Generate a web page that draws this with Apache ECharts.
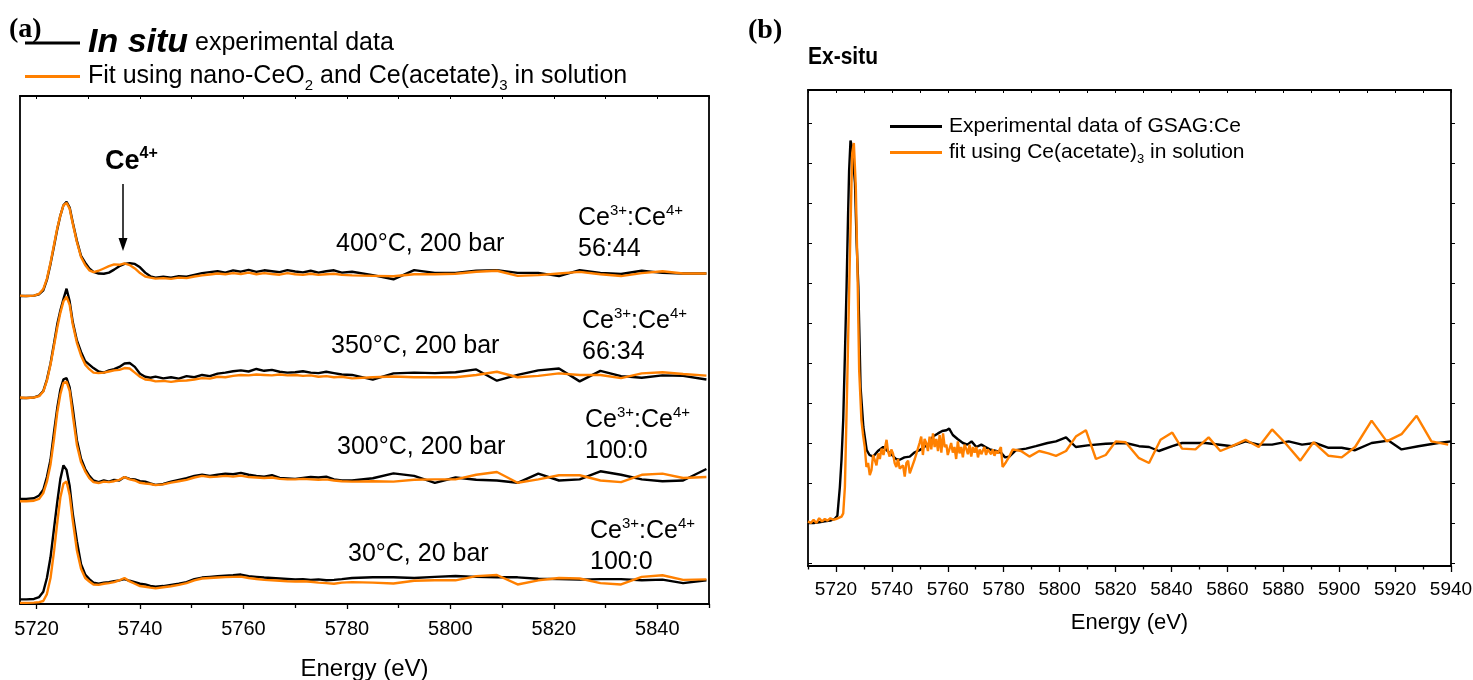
<!DOCTYPE html>
<html>
<head>
<meta charset="utf-8">
<script src="https://cdn.jsdelivr.net/npm/echarts@6/dist/echarts.min.js"></script>
<style>
  html, body { margin: 0; padding: 0; background: #fff; }
  #chart { width: 1473px; height: 680px; }
</style>
</head>
<body>
<div id="chart"></div>
<script>
// Ce L3-edge XANES: (a) in situ spectra stacked by condition, (b) ex-situ GSAG:Ce.
const FONT = '"Liberation Sans", Arial, sans-serif';
const SERIF = '"Liberation Serif", "Times New Roman", serif';
const BLACK = '#000000';
const ORANGE = '#ff8000';

// ---- panel (a): shared energy grid (eV) ----
const energyA = [
  5716.8, 5718, 5719.5, 5720.5, 5721.3, 5722, 5722.7, 5723.4, 5724, 5724.6, 5725.2, 5725.8, 5726.4, 5727,
  5727.8, 5728.6, 5729.4, 5730.2, 5731, 5732, 5733, 5734, 5735, 5736, 5737, 5738, 5739, 5740, 5741, 5742,
  5743, 5744.5, 5746, 5747.5, 5749, 5750.5, 5752, 5753.5, 5755, 5756.5, 5758, 5759.5, 5761, 5762.5, 5764,
  5765.5, 5767, 5768.5, 5770, 5771.5, 5773, 5774.5, 5776, 5777.5, 5779,
  5781, 5785, 5789, 5793, 5797, 5801, 5805, 5809, 5813, 5817, 5821, 5825, 5829, 5833, 5837, 5841, 5845, 5849.5
];

// normalised absorption, one pair (experiment / fit) per condition
const exp400 = [0, 0, 0.02, 0.08, 0.25, 0.7, 1.4, 2.2, 2.9, 3.5, 3.95, 4.1, 3.85, 3.2, 2.4, 1.75, 1.45, 1.2, 1.05, 0.98,
  0.97, 1.02, 1.15, 1.3, 1.4, 1.43, 1.4, 1.25, 1.02, 0.86, 0.8, 0.84, 0.8, 0.86, 0.84, 0.92, 1.0, 1.04, 1.08, 1.02,
  1.12, 1.06, 1.14, 1.05, 1.12, 1.08, 1.04, 1.13, 1.07, 1.03, 1.1, 1.02, 1.08, 1.12, 1.02,
  1.06, 0.91, 0.73, 1.13, 1.01, 1.01, 1.1, 1.13, 1.01, 1.01, 0.87, 1.13, 1.01, 0.96, 1.1, 1.01, 0.98, 0.98];
const fit400 = [0.02, 0, 0.02, 0.1, 0.3, 0.75, 1.45, 2.25, 2.95, 3.5, 3.95, 4.05, 3.8, 3.15, 2.35, 1.7, 1.35, 1.12, 1.04, 1.1,
  1.2, 1.3, 1.38, 1.36, 1.42, 1.35, 1.2, 1.0, 0.85, 0.8, 0.76, 0.78, 0.75, 0.8, 0.78, 0.85, 0.9, 0.94, 0.98, 0.95,
  1.0, 0.96, 1.02, 0.95, 1.0, 0.96, 0.93, 1.0, 0.95, 0.92, 0.97, 0.92, 0.95, 0.97, 0.92,
  0.9, 0.88, 0.86, 0.95, 0.95, 0.97, 1.06, 1.1, 0.88, 0.91, 0.98, 1.05, 0.95, 0.87, 1.0, 1.08, 0.98, 0.98];
const exp350 = [0, 0, 0.02, 0.1, 0.3, 0.8, 1.5, 2.4, 3.2, 3.8, 4.3, 4.75, 4.2, 3.3, 2.5, 2.0, 1.6, 1.45, 1.3, 1.15,
  1.1, 1.2, 1.25, 1.35, 1.5, 1.52, 1.35, 1.05, 0.92, 0.88, 0.93, 0.85, 0.9, 0.84, 0.95, 0.9, 1.0, 0.95, 1.06, 1.1,
  1.16, 1.2, 1.15, 1.26, 1.18, 1.22, 1.14, 1.1, 1.12, 1.16, 1.1, 1.08, 1.14, 1.08, 1.02,
  1.0, 0.8, 1.07, 1.1, 1.08, 1.12, 1.24, 0.75, 1.0, 1.2, 1.28, 0.72, 1.18, 0.95, 0.88, 0.98, 0.96, 0.8];
const fit350 = [0.02, 0, 0.02, 0.08, 0.28, 0.75, 1.45, 2.3, 3.05, 3.7, 4.2, 4.4, 4.05, 3.2, 2.4, 1.85, 1.45, 1.25, 1.1, 1.08,
  1.1, 1.15, 1.2, 1.22, 1.3, 1.28, 1.1, 0.92, 0.8, 0.78, 0.72, 0.74, 0.7, 0.75, 0.76, 0.8, 0.86, 0.84, 0.92, 0.9,
  0.96, 1.0, 0.98, 1.02, 1.0, 0.98, 1.02, 0.98, 1.0, 0.96, 0.98, 0.92, 0.95, 0.9, 0.92,
  0.85, 0.9, 0.93, 0.9, 0.9, 0.9, 1.0, 1.14, 0.9, 0.96, 1.07, 1.0, 1.0, 0.86, 1.07, 1.12, 1.04, 0.97];
const exp300 = [0.05, 0.05, 0.08, 0.2, 0.45, 1.0, 1.75, 3.0, 4.0, 4.8, 5.25, 5.3, 4.9, 4.0, 2.6, 1.8, 1.35, 1.05, 0.85, 0.78,
  0.85, 0.8, 0.88, 0.85, 1.0, 0.92, 0.9, 0.82, 0.8, 0.72, 0.66, 0.7, 0.8, 0.88, 0.95, 1.05, 1.1, 1.05, 1.1, 1.15,
  1.12, 1.18, 1.1, 1.05, 1.02, 1.08, 0.96, 0.94, 0.92, 0.96, 1.0, 0.98, 1.02, 0.9, 0.85,
  0.85, 0.95, 1.16, 1.05, 0.75, 0.98, 0.88, 0.85, 0.75, 1.15, 0.85, 0.9, 1.25, 1.1, 0.9, 0.82, 0.85, 1.35];
const fit300 = [-0.05, -0.05, -0.03, 0.05, 0.3, 0.8, 1.55, 2.7, 3.8, 4.6, 5.1, 5.15, 4.75, 3.7, 2.4, 1.65, 1.25, 0.95, 0.78, 0.74,
  0.8, 0.78, 0.82, 0.88, 1.0, 0.9, 0.85, 0.75, 0.72, 0.7, 0.65, 0.68, 0.76, 0.82, 0.88, 0.98, 1.05, 1.0, 1.02, 1.05,
  1.02, 1.06, 1.0, 0.98, 0.96, 0.98, 0.92, 0.9, 0.9, 0.92, 0.9, 0.88, 0.9, 0.85, 0.82,
  0.8, 0.82, 0.8, 0.88, 0.9, 0.9, 1.1, 1.22, 0.75, 0.9, 1.08, 1.08, 0.85, 0.78, 1.1, 1.15, 0.96, 1.0];
const exp30 = [0.07, 0.07, 0.09, 0.17, 0.4, 1.0, 1.9, 3.2, 4.3, 5.3, 5.9, 5.7, 5.0, 3.8, 2.6, 1.6, 1.15, 0.95, 0.8, 0.75,
  0.8, 0.82, 0.86, 0.9, 0.95, 0.88, 0.82, 0.75, 0.72, 0.66, 0.62, 0.65, 0.7, 0.75, 0.82, 0.95, 1.02, 1.05, 1.08, 1.1,
  1.12, 1.15, 1.08, 1.05, 1.02, 1.0, 0.98, 0.96, 0.94, 0.95, 0.92, 0.94, 0.9, 0.92, 0.95,
  1.0, 1.03, 1.03, 1.0, 1.05, 1.09, 1.05, 1.03, 1.03, 0.97, 0.95, 0.93, 0.95, 0.95, 0.9, 0.93, 0.78, 0.9];
const fit30 = [-0.08, -0.08, -0.07, -0.05, 0.0, 0.3, 1.0, 2.2, 3.4, 4.5, 5.1, 5.2, 4.6, 3.5, 2.2, 1.4, 1.0, 0.85, 0.72, 0.7,
  0.75, 0.78, 0.82, 0.9, 1.0, 0.85, 0.75, 0.65, 0.62, 0.58, 0.55, 0.6, 0.64, 0.7, 0.78, 0.9, 0.98, 1.0, 1.02, 1.04,
  1.05, 1.06, 1.0, 0.96, 0.92, 0.9, 0.88, 0.86, 0.85, 0.86, 0.84, 0.8, 0.78, 0.75, 0.8,
  0.82, 0.8, 0.76, 0.88, 0.9, 0.9, 1.08, 1.13, 0.72, 0.9, 1.0, 0.98, 0.78, 0.72, 1.05, 1.12, 0.92, 0.94];

// vertical stacking offsets, bottom to top: 30 °C, 300 °C, 350 °C, 400 °C
const offsetsA = [0.13, 4.52, 8.96, 13.39];
const conditions = ['30°C, 20 bar', '300°C, 200 bar', '350°C, 200 bar', '400°C, 200 bar'];
const ratios = ['100:0', '100:0', '66:34', '56:44'];

// ---- panel (b) ----
const energyBexp = [5710, 5712, 5714, 5716, 5718, 5719.5, 5720.5, 5721.4, 5722, 5722.6, 5723.2, 5723.8, 5724.3, 5724.7,
  5725.2, 5725.6, 5726.2, 5726.8, 5727.4, 5728, 5728.8, 5729.8, 5731, 5732, 5733.3, 5735, 5736.9, 5738.5, 5740,
  5741.5, 5742.8, 5744.5, 5746.4, 5748, 5749.9, 5751.5, 5753, 5754.7, 5756.5, 5758, 5759.5, 5760.5, 5761.8, 5763.5,
  5765.4, 5767, 5768.5, 5770.2, 5772, 5773.5, 5775, 5777.3, 5779, 5780.5, 5782, 5784.4, 5788, 5791.5, 5795.7,
  5798.7, 5802.3, 5805.8, 5810, 5816.5, 5823.6, 5828.4, 5832, 5835.5, 5840.3, 5843.8, 5852.2, 5861.7, 5866.5,
  5871.2, 5876, 5881.9, 5886.7, 5891.4, 5896.2, 5900.9, 5905.7, 5911.6, 5917.6, 5922.3, 5928.3, 5935.4, 5940];
const expB = [0, 0, 0.01, 0.02, 0.03, 0.05, 0.09, 0.45, 0.8, 1.29, 2.1, 2.96, 3.8, 4.4, 4.78, 4.72, 4.5, 4.25, 3.5, 2.96,
  1.7, 1.2, 0.91, 0.85, 0.83, 0.9, 0.95, 0.9, 0.85, 0.8, 0.79, 0.82, 0.83, 0.88, 0.91, 0.95, 0.98, 1.08, 1.12, 1.15,
  1.16, 1.18, 1.1, 1.05, 1.0, 0.98, 1.02, 0.95, 0.98, 0.95, 0.92, 0.9, 0.88, 0.82, 0.83, 0.91, 0.93, 0.96, 1.0, 1.02,
  1.07, 0.95, 0.97, 0.99, 1.0, 0.96, 0.95, 0.9, 0.96, 1.0, 1.0, 0.96, 1.02, 0.98, 0.98, 1.02, 0.98, 1.0, 0.94, 0.94,
  0.91, 1.0, 1.03, 0.92, 0.96, 1.0, 1.02];
const energyBfit = [5710, 5711, 5712, 5713, 5714, 5715, 5716, 5717, 5718, 5719, 5720, 5720.8, 5721.4, 5722, 5722.6,
  5723.2, 5724, 5725, 5725.8, 5726.4, 5727.1, 5727.7, 5728.3, 5729.1, 5729.7, 5730.3, 5730.9, 5731.5, 5732.1, 5732.7,
  5733.3, 5733.9, 5734.5, 5735.1, 5735.7, 5736.3, 5737, 5737.6, 5738.1, 5738.6, 5739.2, 5739.8, 5740.4, 5741, 5741.6,
  5742.2, 5742.8, 5743.4, 5744, 5744.6, 5745.2, 5745.8, 5746.4, 5747, 5747.6, 5748.2, 5748.8, 5749.3, 5749.9, 5750.5,
  5751.1, 5751.7, 5752.3, 5752.9, 5753.5, 5754.1, 5754.7, 5755.3, 5755.9, 5756.5, 5757.1, 5757.7, 5758.3, 5758.9,
  5759.5, 5760, 5760.6, 5761.2, 5761.8, 5762.4, 5763, 5763.6, 5764.2, 5764.8, 5765.4, 5766, 5766.6, 5767.2, 5767.8,
  5768.4, 5769, 5769.6, 5770.2, 5770.8, 5771.4, 5772, 5772.5, 5773.1, 5773.7, 5774.3, 5774.9, 5775.5, 5776.1, 5776.7,
  5777.3, 5777.9, 5778.5, 5779, 5779.6, 5780.8, 5782, 5783.2, 5786.2, 5789.2, 5792.7, 5796, 5798.7, 5802.3, 5805.8,
  5809.4, 5813, 5816.5, 5820.1, 5823.6, 5828.4, 5832, 5836.1, 5840.3, 5843.8, 5848.6, 5853.3, 5857.5, 5861.7, 5866.5,
  5871.2, 5876, 5880.7, 5886.1, 5890.8, 5896.2, 5900.9, 5905.7, 5911.6, 5917, 5922.3, 5927.7, 5933, 5939];
const fitB = [0.02, 0, 0.04, 0, 0.06, 0.02, 0.05, 0.03, 0.06, 0.04, 0.05, 0.06, 0.06, 0.08, 0.12,
  0.45, 1.7, 3.37, 4.62, 4.75, 4.2, 3.16, 1.91, 1.29, 1.1, 0.95, 0.7, 0.75, 0.6, 0.66,
  0.85, 0.83, 0.72, 0.87, 0.8, 0.93, 0.85, 0.95, 1.04, 0.9, 0.83, 0.92, 0.87, 0.75, 0.7,
  0.8, 0.68, 0.66, 0.72, 0.58, 0.75, 0.78, 0.62, 0.68, 0.66, 0.8, 0.87, 0.87, 1.0, 1.08,
  0.85, 1.05, 1.0, 0.9, 1.08, 0.92, 1.12, 0.95, 1.05, 0.9, 1.1, 0.88, 1.12, 0.95,
  0.98, 0.85, 0.83, 1.0, 0.88, 0.95, 0.8, 1.02, 0.87, 0.95, 0.82, 0.98, 0.93, 0.86, 0.98,
  0.83, 0.95, 0.88, 0.95, 0.82, 0.92, 0.86, 0.87, 0.95, 0.85, 0.92, 0.93, 0.86, 0.92, 0.84,
  0.9, 0.87, 0.87, 0.95, 0.7, 0.76, 0.83, 0.92, 0.9, 0.83, 0.9, 0.87, 0.84, 0.9, 1.08,
  1.16, 0.8, 0.85, 1.02, 1.01, 0.81, 0.75, 1.04, 1.13, 0.93, 0.92, 1.07, 0.9, 0.96, 1.04,
  0.95, 1.17, 1.0, 0.78, 1.01, 0.84, 0.82, 0.95, 1.28, 1.02, 1.11, 1.34, 1.02, 0.98];

// ---- tick values ----
const ticksA = [5720, 5740, 5760, 5780, 5800, 5820, 5840];
const minorA = [5730, 5750, 5770, 5790, 5810, 5830, 5850];
const topA = [5720, 5730, 5740, 5750, 5760, 5770, 5780, 5790, 5800, 5810, 5820, 5830, 5840, 5850];
const ticksB = [5720, 5740, 5760, 5780, 5800, 5820, 5840, 5860, 5880, 5900, 5920, 5940];
const minorB = [5710, 5730, 5750, 5770, 5790, 5810, 5830, 5850, 5870, 5890, 5910, 5930];
const topB = [5710, 5720, 5730, 5740, 5750, 5760, 5770, 5780, 5790, 5800, 5810, 5820, 5830, 5840, 5850, 5860,
  5870, 5880, 5890, 5900, 5910, 5920, 5930, 5940];
const yTicksB = [-0.5, 0, 0.5, 1, 1.5, 2, 2.5, 3, 3.5, 4, 4.5, 5];

const NAME_EXP_A = 'In situ experimental data';
const NAME_FIT_A = 'Fit using nano-CeO2 and Ce(acetate)3 in solution';
const NAME_EXP_B = 'Experimental data of GSAG:Ce';
const NAME_FIT_B = 'fit using Ce(acetate)3 in solution';

function pairs(xs, ys, off) {
  return xs.map((x, i) => [x, ys[i] + (off || 0)]);
}

function lineSeries(name, data, color, xi, yi) {
  return {
    name, type: 'line', data, xAxisIndex: xi, yAxisIndex: yi,
    symbol: 'none', showSymbol: false, silent: true,
    lineStyle: { color, width: 2.4 }, itemStyle: { color },
  };
}

const AX_LINE = { show: true, onZero: false, lineStyle: { color: BLACK, width: 1.8 } };

function valueX(grid, min, max, extra) {
  return Object.assign({
    type: 'value', gridIndex: grid, min, max, splitLine: { show: false },
    axisLine: AX_LINE,
  }, extra);
}

const stacksA = [[exp30, fit30], [exp300, fit300], [exp350, fit350], [exp400, fit400]];
const series = [];
stacksA.forEach(([e], i) => {
  series.push(lineSeries(NAME_EXP_A, pairs(energyA, e, offsetsA[i]), BLACK, 0, 0));
});
stacksA.forEach(([, f], i) => {
  series.push(lineSeries(NAME_FIT_A, pairs(energyA, f, offsetsA[i]), ORANGE, 0, 0));
});
series.push(lineSeries(NAME_EXP_B, pairs(energyBexp, expB), BLACK, 3, 2));
series.push(lineSeries(NAME_FIT_B, pairs(energyBfit, fitB), ORANGE, 3, 2));

const plain = (v) => String(v);

// condition and ratio annotations in panel (a)
const condPos = [[348, 554], [337, 447], [331, 346], [336, 244]];
const ratioPos = [[590, 516], [585, 405], [582, 306], [578, 203]];
const graphics = [
  { type: 'text', x: 9, y: 30, style: { text: '(a)', fontFamily: SERIF, fontWeight: 'bold', fontSize: 28, fill: BLACK, verticalAlign: 'middle' } },
  { type: 'text', x: 748, y: 31, style: { text: '(b)', fontFamily: SERIF, fontWeight: 'bold', fontSize: 28, fill: BLACK, verticalAlign: 'middle' } },
  { type: 'text', x: 808, y: 68, scaleY: 1.15, originY: 68, style: { text: 'Ex-situ', fontFamily: FONT, fontWeight: 'bold', fontSize: 21, fill: BLACK, verticalAlign: 'middle' } },
  { type: 'text', x: 105, y: 162, style: {
      text: '{c|Ce}{p|4+}', verticalAlign: 'middle', fill: BLACK,
      rich: { c: { fontFamily: FONT, fontWeight: 'bold', fontSize: 27, lineHeight: 32 },
              p: { fontFamily: FONT, fontWeight: 'bold', fontSize: 16, verticalAlign: 'top' } } } },
  { type: 'line', shape: { x1: 123, y1: 184, x2: 123, y2: 240 }, style: { stroke: BLACK, lineWidth: 1.5 } },
  { type: 'polygon', shape: { points: [[118.5, 238], [127.5, 238], [123, 251]] }, style: { fill: BLACK } },
];
conditions.forEach((t, i) => {
  graphics.push({ type: 'text', x: condPos[i][0], y: condPos[i][1],
    style: { text: t, fontFamily: FONT, fontSize: 25, fill: BLACK, verticalAlign: 'middle' } });
  graphics.push({ type: 'text', x: ratioPos[i][0], y: ratioPos[i][1],
    style: { text: '{a|Ce}{s|3+}{a|:Ce}{s|4+}\n{a|' + ratios[i] + '}', verticalAlign: 'top', fill: BLACK,
      rich: { a: { fontFamily: FONT, fontSize: 25, lineHeight: 31 },
              s: { fontFamily: FONT, fontSize: 15, verticalAlign: 'top' } } } });
});

const chart = echarts.init(document.getElementById('chart'), null, { renderer: 'canvas' });
chart.setOption({
  animation: false,
  backgroundColor: '#ffffff',
  textStyle: { fontFamily: FONT, color: BLACK },
  grid: [
    { left: 20, top: 96, width: 689, height: 508, outerBoundsMode: 'none' },
    { left: 808, top: 90, width: 643, height: 476, outerBoundsMode: 'none' },
  ],
  legend: [
    {
      data: [NAME_EXP_A, NAME_FIT_A], orient: 'vertical', left: 25, top: 26, padding: 0,
      icon: 'rect', itemWidth: 55, itemHeight: 3, itemGap: 4, selectedMode: false,
      textStyle: { padding: [0, 0, 0, 3],
        rich: {
          b: { fontFamily: FONT, fontSize: 34, fontWeight: 'bold', fontStyle: 'italic', lineHeight: 34 },
          r: { fontFamily: FONT, fontSize: 25, lineHeight: 34 },
          s: { fontFamily: FONT, fontSize: 15, verticalAlign: 'bottom' },
        } },
      formatter: (n) => n === NAME_EXP_A
        ? '{b|In situ}{r| experimental data}'
        : '{r|Fit using nano-CeO}{s|2}{r| and Ce(acetate)}{s|3}{r| in solution}',
    },
    {
      data: [NAME_EXP_B, NAME_FIT_B], orient: 'vertical', left: 890, top: 116, padding: 0,
      icon: 'rect', itemWidth: 52, itemHeight: 3, itemGap: 5, selectedMode: false,
      textStyle: { padding: [0, 0, 0, 2],
        rich: {
          r: { fontFamily: FONT, fontSize: 21, lineHeight: 27 },
          s: { fontFamily: FONT, fontSize: 13, verticalAlign: 'bottom' },
        } },
      formatter: (n) => n === NAME_EXP_B
        ? '{r|Experimental data of GSAG:Ce}'
        : '{r|fit using Ce(acetate)}{s|3}{r| in solution}',
    },
  ],
  xAxis: [
    valueX(0, 5716.8, 5850, {
      position: 'bottom', name: 'Energy (eV)', nameLocation: 'middle', nameGap: 53,
      nameTextStyle: { fontFamily: FONT, fontSize: 24, color: BLACK },
      axisTick: { show: true, length: 5, customValues: ticksA, lineStyle: { color: BLACK, width: 1.3 } },
      axisLabel: { show: true, customValues: ticksA, formatter: plain, margin: 15, fontSize: 20, color: BLACK, fontFamily: FONT },
    }),
    valueX(0, 5716.8, 5850, {
      position: 'bottom', axisLine: { show: false, onZero: false },
      axisTick: { show: true, length: 4, customValues: minorA, lineStyle: { color: BLACK, width: 1.3 } },
      axisLabel: { show: false },
    }),
    valueX(0, 5716.8, 5850, {
      position: 'top',
      axisTick: { show: true, inside: true, length: 3, customValues: topA, lineStyle: { color: BLACK, width: 1 } },
      axisLabel: { show: false },
    }),
    valueX(1, 5710, 5940, {
      position: 'bottom', name: 'Energy (eV)', nameLocation: 'middle', nameGap: 46,
      nameTextStyle: { fontFamily: FONT, fontSize: 22, color: BLACK },
      axisTick: { show: true, length: 6, customValues: ticksB, lineStyle: { color: BLACK, width: 1.3 } },
      axisLabel: { show: true, customValues: ticksB, formatter: plain, margin: 14, fontSize: 19, color: BLACK, fontFamily: FONT },
    }),
    valueX(1, 5710, 5940, {
      position: 'bottom', axisLine: { show: false, onZero: false },
      axisTick: { show: true, length: 3.5, customValues: minorB, lineStyle: { color: BLACK, width: 1.3 } },
      axisLabel: { show: false },
    }),
    valueX(1, 5710, 5940, {
      position: 'top',
      axisTick: { show: true, inside: true, length: 3, customValues: topB, lineStyle: { color: BLACK, width: 1 } },
      axisLabel: { show: false },
    }),
  ],
  yAxis: [
    { type: 'value', gridIndex: 0, min: 0, max: 22.09, position: 'left', axisLine: AX_LINE,
      axisTick: { show: false }, axisLabel: { show: false }, splitLine: { show: false } },
    { type: 'value', gridIndex: 0, min: 0, max: 22.09, position: 'right', axisLine: AX_LINE,
      axisTick: { show: false }, axisLabel: { show: false }, splitLine: { show: false } },
    { type: 'value', gridIndex: 1, min: -0.5375, max: 5.4125, position: 'left', axisLine: AX_LINE,
      axisTick: { show: true, inside: true, length: 4, customValues: yTicksB, lineStyle: { color: BLACK, width: 1 } },
      axisLabel: { show: false }, splitLine: { show: false } },
    { type: 'value', gridIndex: 1, min: -0.5375, max: 5.4125, position: 'right', axisLine: AX_LINE,
      axisTick: { show: true, length: 4, customValues: yTicksB, lineStyle: { color: BLACK, width: 1 } },
      axisLabel: { show: false }, splitLine: { show: false } },
  ],
  series,
  graphic: graphics,
});
</script>
</body>
</html>
